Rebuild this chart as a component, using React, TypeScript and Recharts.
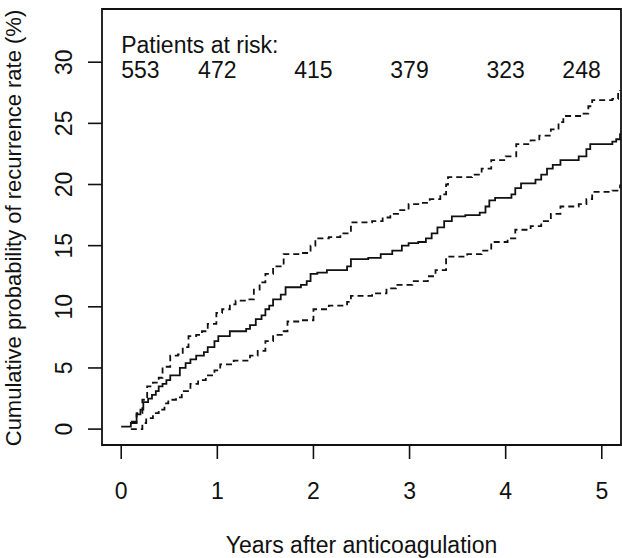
import React from 'react';
import { LineChart, Line, XAxis, YAxis, ReferenceArea, ReferenceDot, Label } from 'recharts';

// Kaplan-Meier style cumulative recurrence (%)
const estTimes = [0, 0.1, 0.16, 0.2, 0.23, 0.28, 0.32, 0.36, 0.39, 0.43, 0.47, 0.51, 0.61, 0.67, 0.72, 0.78, 0.86, 0.9, 0.97, 1.01, 1.13, 1.3, 1.34, 1.4, 1.46, 1.5, 1.54, 1.58, 1.66, 1.71, 1.87, 1.93, 1.97, 2.04, 2.14, 2.35, 2.39, 2.57, 2.7, 2.82, 2.92, 2.99, 3.09, 3.17, 3.23, 3.29, 3.36, 3.44, 3.58, 3.73, 3.79, 3.83, 3.89, 4.06, 4.1, 4.16, 4.31, 4.37, 4.43, 4.49, 4.57, 4.76, 4.84, 4.88, 5.11, 5.15, 5.19];
const estValues = [0.2, 0.5, 1.2, 1.6, 2.2, 2.5, 2.8, 3.1, 3.5, 3.7, 4.0, 4.4, 5.0, 5.4, 5.7, 6.0, 6.3, 6.7, 7.2, 7.6, 8.0, 8.2, 8.5, 9.0, 9.3, 9.8, 10.1, 10.6, 11.0, 11.6, 11.8, 12.1, 12.7, 12.8, 13.0, 13.3, 13.9, 14.0, 14.3, 14.6, 15.0, 15.2, 15.3, 15.6, 16.0, 16.5, 17.0, 17.4, 17.5, 17.7, 18.2, 18.7, 18.9, 19.2, 19.7, 20.1, 20.4, 20.8, 21.3, 21.6, 22.0, 22.3, 22.9, 23.3, 23.5, 23.7, 24.2];

const upperTimes = [0.1, 0.16, 0.22, 0.27, 0.33, 0.39, 0.43, 0.51, 0.59, 0.64, 0.7, 0.78, 0.84, 0.9, 0.99, 1.05, 1.13, 1.19, 1.32, 1.38, 1.44, 1.5, 1.58, 1.69, 1.87, 1.97, 2.02, 2.16, 2.28, 2.39, 2.61, 2.72, 2.8, 2.88, 2.99, 3.11, 3.21, 3.32, 3.38, 3.4, 3.65, 3.75, 3.85, 4.0, 4.11, 4.26, 4.35, 4.47, 4.55, 4.6, 4.8, 4.86, 4.9, 5.11, 5.17, 5.19];
const upperValues = [0.6, 1.3, 2.4, 3.5, 3.8, 4.2, 5.1, 6.0, 6.1, 6.7, 7.6, 7.7, 8.0, 8.6, 9.5, 9.8, 10.2, 10.5, 10.6, 11.4, 12.0, 12.7, 13.3, 14.3, 14.4, 15.0, 15.6, 15.7, 16.0, 16.9, 17.0, 17.3, 17.6, 17.9, 18.4, 18.5, 18.8, 19.2, 20.0, 20.6, 20.8, 21.3, 22.0, 22.3, 23.3, 23.6, 24.0, 24.5, 25.1, 25.6, 25.8, 26.4, 26.9, 27.0, 27.4, 27.7];

const lowerTimes = [0.1, 0.22, 0.26, 0.33, 0.39, 0.45, 0.49, 0.57, 0.63, 0.72, 0.8, 0.88, 0.97, 1.03, 1.17, 1.34, 1.42, 1.5, 1.58, 1.69, 1.73, 1.87, 2.0, 2.16, 2.35, 2.39, 2.61, 2.76, 2.86, 3.03, 3.19, 3.27, 3.38, 3.6, 3.75, 3.85, 4.02, 4.1, 4.26, 4.37, 4.47, 4.57, 4.76, 4.84, 4.9, 5.11, 5.19];
const lowerValues = [0, 0.5, 0.9, 1.3, 1.6, 2.1, 2.4, 2.6, 3.1, 3.7, 4.0, 4.4, 4.8, 5.3, 5.6, 6.0, 6.4, 7.2, 7.7, 8.0, 8.8, 8.9, 9.8, 10.1, 10.4, 10.9, 11.1, 11.5, 11.8, 12.1, 12.5, 13.0, 14.1, 14.3, 14.6, 15.3, 15.6, 16.3, 16.6, 17.0, 17.6, 18.2, 18.4, 18.8, 19.4, 19.5, 20.0];

const riskTitle = 'Patients at risk:';
const riskCounts = ['553', '472', '415', '379', '323', '248'];
const riskLabelTimes = [0, 0.8, 1.8, 2.8, 3.8, 4.59];

const xTicks = [0, 1, 2, 3, 4, 5];
const yTicks = [0, 5, 10, 15, 20, 25, 30];
const xDomain: [number, number] = [-0.2, 5.2];
const yDomain: [number, number] = [-1.3, 34.35];

const xTitle = 'Years after anticoagulation';
const yTitle = 'Cumulative probability of recurrence rate (%)';

const FONT = '"Liberation Sans", Arial, sans-serif';
const INK = '#111';

const toSeries = (ts: number[], vs: number[]) => ts.map((t, i) => ({ t, v: vs[i] }));
const estData = toSeries(estTimes, estValues);
const upperData = toSeries(upperTimes, upperValues);
const lowerData = toSeries(lowerTimes, lowerValues);

const YTick = (props: any) => {
  const { x, y, payload } = props;
  return (
    <text x={x} y={y} transform={`rotate(-90, ${x}, ${y})`} textAnchor="middle" fontSize={23} fontFamily={FONT} fill={INK}>
      {payload.value}
    </text>
  );
};

const XTitle = (props: any) => {
  const vb = props.viewBox;
  return (
    <text x={vb.x + vb.width / 2} y={vb.y + 108} textAnchor="middle" fontSize={23} fontFamily={FONT} fill={INK}>
      {xTitle}
    </text>
  );
};

const YTitle = (props: any) => {
  const vb = props.viewBox;
  const x = vb.x + 21;
  const y = vb.y + vb.height / 2 + 1;
  return (
    <text x={x} y={y} transform={`rotate(-90, ${x}, ${y})`} textAnchor="middle" fontSize={22} fontFamily={FONT} fill={INK}>
      {yTitle}
    </text>
  );
};

const textShape = (label: string) => (p: any) => (
  <text x={p.cx} y={p.cy} textAnchor="start" fontSize={23} fontFamily={FONT} fill={INK}>
    {label}
  </text>
);

export default function App() {
  return (
    <div style={{ position: 'absolute', left: 0, top: 0, background: '#fff' }}>
      <LineChart width={622} height={558} margin={{ top: 9, right: 1, bottom: 0, left: 0 }}>
        <XAxis
          dataKey="t"
          type="number"
          domain={xDomain}
          ticks={xTicks}
          allowDataOverflow
          height={113}
          axisLine={false}
          tickSize={14}
          tickMargin={24}
          tickLine={{ stroke: INK, strokeWidth: 1.6 }}
          tick={{ fontSize: 23, fontFamily: FONT, fill: INK }}
          label={<Label content={XTitle} />}
        />
        <YAxis
          type="number"
          domain={yDomain}
          ticks={yTicks}
          allowDataOverflow
          width={102}
          axisLine={false}
          tickSize={14}
          tickMargin={16}
          tickLine={{ stroke: INK, strokeWidth: 1.6 }}
          tick={<YTick />}
          label={<Label content={YTitle} />}
        />
        <ReferenceArea x1={xDomain[0]} x2={xDomain[1]} y1={yDomain[0]} y2={yDomain[1]} fill="none" stroke={INK} strokeWidth={1.8} fillOpacity={0} ifOverflow="visible" />
        <Line data={upperData} dataKey="v" type="stepAfter" stroke={INK} strokeWidth={1.8} strokeDasharray="6 4" dot={false} isAnimationActive={false} />
        <Line data={lowerData} dataKey="v" type="stepAfter" stroke={INK} strokeWidth={1.8} strokeDasharray="6 4" dot={false} isAnimationActive={false} />
        <Line data={estData} dataKey="v" type="stepAfter" stroke={INK} strokeWidth={1.8} dot={false} isAnimationActive={false} />
        <ReferenceDot x={riskLabelTimes[0]} y={30.76} r={0} shape={textShape(riskTitle)} />
        {riskCounts.map((c, i) => (
          <ReferenceDot key={c} x={riskLabelTimes[i]} y={28.72} r={0} shape={textShape(c)} />
        ))}
      </LineChart>
    </div>
  );
}
